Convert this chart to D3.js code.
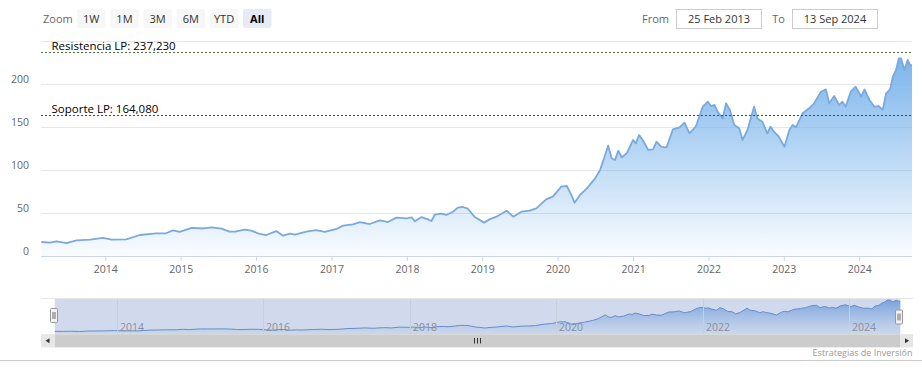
<!DOCTYPE html>
<html><head><meta charset="utf-8">
<script src="https://cdn.jsdelivr.net/npm/d3@7/dist/d3.min.js"></script>
<style>body{margin:0;background:#fff;}svg{display:block;font-family:"Open Sans",sans-serif;}</style>
</head><body><svg id="c" width="922" height="371"></svg>
<script>
const dates = ["2013-02-25","2013-04-08","2013-05-10","2013-06-28","2013-08-14","2013-10-20","2013-12-20","2014-02-01","2014-04-13","2014-06-17","2014-09-06","2014-10-23","2014-11-24","2014-12-28","2015-02-23","2015-04-20","2015-05-31","2015-07-18","2015-08-25","2015-09-27","2015-11-06","2015-12-09","2016-01-19","2016-02-20","2016-04-08","2016-05-11","2016-06-13","2016-07-08","2016-09-01","2016-10-19","2016-11-29","2017-01-25","2017-02-26","2017-04-15","2017-05-18","2017-07-05","2017-08-23","2017-10-02","2017-11-11","2017-12-30","2018-01-24","2018-02-09","2018-03-13","2018-04-13","2018-04-30","2018-05-16","2018-06-17","2018-07-11","2018-08-12","2018-09-05","2018-09-29","2018-10-23","2018-11-24","2019-01-10","2019-02-05","2019-03-11","2019-04-29","2019-05-31","2019-07-10","2019-08-19","2019-09-20","2019-11-07","2019-12-09","2020-01-19","2020-02-15","2020-03-08","2020-03-23","2020-04-19","2020-05-22","2020-07-01","2020-07-25","2020-08-13","2020-09-02","2020-09-19","2020-10-05","2020-10-21","2020-11-07","2020-12-01","2021-01-01","2021-01-14","2021-01-30","2021-02-19","2021-03-15","2021-04-08","2021-04-24","2021-05-18","2021-06-12","2021-07-13","2021-08-14","2021-09-07","2021-10-01","2021-11-02","2021-12-04","2021-12-29","2022-01-14","2022-01-30","2022-02-15","2022-03-11","2022-03-27","2022-04-15","2022-05-06","2022-05-30","2022-06-15","2022-07-09","2022-08-10","2022-08-26","2022-09-19","2022-10-13","2022-10-29","2022-11-14","2022-12-08","2023-01-04","2023-01-28","2023-02-13","2023-03-01","2023-04-02","2023-05-04","2023-05-28","2023-06-30","2023-07-24","2023-08-09","2023-09-02","2023-09-26","2023-10-12","2023-10-28","2023-11-21","2023-12-15","2024-01-11","2024-01-27","2024-02-20","2024-03-15","2024-04-05","2024-04-24","2024-05-11","2024-05-30","2024-06-12","2024-06-28","2024-07-11","2024-07-22","2024-08-07","2024-08-23","2024-09-04","2024-09-13"];
const prices = [16.3,15.5,17,15,18.2,19,21,19,19.4,24.4,26.4,26.4,29.8,28,32.6,32,33.3,31.8,28.3,28.5,30.6,29.5,25.6,24.4,29,23.6,26,24.8,28.3,30.2,28,31.4,35.3,36.8,39.5,37.2,41.5,39.5,44.6,43.8,45,40.3,45.3,42.6,40.7,48,49.2,47.7,51.5,56.2,57,55,45.7,38.8,42.6,45.7,52.7,45.7,51.5,52.7,55.4,65.9,69,80.6,81.4,71,62,71,78.7,90.3,100,113.6,128.3,113.6,111.6,122.4,114.8,119.4,134.9,131,140.7,134,123.3,124,132.9,127,126.4,147.3,149.6,155,142.7,151,173.6,179.4,174.4,175.6,167.8,160,177.6,169.8,152.3,148.5,134.9,146.5,173.6,160,156.2,142.7,150.3,144.5,138.7,127,146.5,152.3,149.6,165.9,171.7,177.6,191,193.8,177.6,186,175.6,179.4,173.6,191,196.9,185.2,193.8,181.4,173.6,174.4,169.8,189.2,193.8,208.5,216.3,229.9,229.9,216.3,228,222,222];
const yTicks = [0,50,100,150,200,250];
const yTickLabels = ["0","50","100","150","200",""];
const xTickYears = [2014,2015,2016,2017,2018,2019,2020,2021,2022,2023,2024];
const navTickYears = [2014,2016,2018,2020,2022,2024];
const plotLineValues = [237.23,164.08];
const plotLineLabels = ["Resistencia LP: 237,230","Soporte LP: 164,080"];
const zoomButtons = ["1W","1M","3M","6M","YTD","All"];
const fromDate = "25 Feb 2013", toDate = "13 Sep 2024";
const creditText = "Estrategias de Inversión";

const parse = d3.timeParse("%Y-%m-%d");
const data = dates.map((d,i)=>({date:parse(d), v:prices[i]}));
const svg = d3.select("#c");
const defs = svg.append("defs");

// ---------- range selector ----------
svg.append("text").attr("x",43).attr("y",23).attr("font-size","11px").attr("fill","#666").text("Zoom");
const btnG = svg.append("g");
zoomButtons.forEach((b,i)=>{
  const x = 77 + i*33.2;
  const sel = b==="All";
  btnG.append("rect").attr("x",x).attr("y",9).attr("width",28.5).attr("height",19).attr("rx",2)
    .attr("fill", sel ? "#e6ebf5" : "#f7f7f7");
  btnG.append("text").attr("x",x+14.25).attr("y",22.5).attr("text-anchor","middle")
    .attr("font-size","11px").attr("fill", sel ? "#000" : "#333").attr("font-weight", sel ? "bold":"normal").text(b);
});
svg.append("text").attr("x",669).attr("y",23).attr("text-anchor","end").attr("font-size","11px").attr("fill","#666").text("From");
svg.append("rect").attr("x",676.5).attr("y",9.5).attr("width",85).attr("height",19).attr("fill","#fff").attr("stroke","#cccccc");
svg.append("text").attr("x",719).attr("y",23).attr("text-anchor","middle").attr("font-size","11px").attr("fill","#333").text(fromDate);
svg.append("text").attr("x",785).attr("y",23).attr("text-anchor","end").attr("font-size","11px").attr("fill","#666").text("To");
svg.append("rect").attr("x",792.5).attr("y",9.5).attr("width",85).attr("height",19).attr("fill","#fff").attr("stroke","#cccccc");
svg.append("text").attr("x",835).attr("y",23).attr("text-anchor","middle").attr("font-size","11px").attr("fill","#333").text(toDate);

// ---------- main plot ----------
const x = d3.scaleTime().domain([parse("2013-02-25"), parse("2024-09-13")]).range([41.3, 912]);
const y = d3.scaleLinear().domain([0,250]).range([256, 41]);

const grid = svg.append("g");
yTicks.forEach(t=>{
  grid.append("line").attr("x1",41).attr("x2",912).attr("y1",Math.round(y(t))+0.5).attr("y2",Math.round(y(t))+0.5)
    .attr("stroke","#e6e6e6").attr("stroke-width",1);
});
const yAx = svg.append("g").attr("transform","translate(29,0)")
  .call(d3.axisLeft(y).tickValues(yTicks.slice(0,5)).tickFormat((d,i)=>yTickLabels[i]).tickSize(0).tickPadding(0));
yAx.select(".domain").remove();
yAx.selectAll("text").attr("font-family","Open Sans, sans-serif").attr("font-size","10.5px").attr("fill","#666").attr("dy",null)
  .attr("y",-1.5).attr("text-anchor","end");

const grad = defs.append("linearGradient").attr("id","ag").attr("gradientUnits","userSpaceOnUse")
  .attr("x1",0).attr("x2",0).attr("y1",y(d3.max(prices))).attr("y2",y(0));
grad.append("stop").attr("offset","0%").attr("stop-color","#7cb5ec").attr("stop-opacity",1);
grad.append("stop").attr("offset","100%").attr("stop-color","#7cb5ec").attr("stop-opacity",0.04);

const area = d3.area().x(d=>x(d.date)).y0(y(0)).y1(d=>y(d.v));
const line = d3.line().x(d=>x(d.date)).y(d=>y(d.v));
svg.append("path").datum(data).attr("d",area).attr("fill","url(#ag)");
svg.append("path").datum(data).attr("d",line).attr("fill","none").attr("stroke","#7aaadd").attr("stroke-width",1.8).attr("stroke-linejoin","round");

// plot lines
const plColors = ["#4f6e3e","#b3122e"];
plotLineValues.forEach((v,i)=>{
  const yy = Math.round(y(v))+0.5;
  svg.append("line").attr("x1",41).attr("x2",912).attr("y1",yy).attr("y2",yy)
    .attr("stroke",plColors[i]).attr("stroke-width",1).attr("stroke-dasharray","2,2");
  svg.append("text").attr("x",51.5).attr("y",yy-2.5).attr("font-size","11.5px").attr("fill","#000").text(plotLineLabels[i]);
});

// x axis
const xAx = svg.append("g").attr("transform","translate(0,256)")
  .call(d3.axisBottom(x).tickValues(xTickYears.map(yr=>new Date(yr,0,1))).tickFormat(d3.timeFormat("%Y")).tickSize(5).tickPadding(5));
xAx.select(".domain").attr("d","M41,0.5H912").attr("stroke","#ccd6eb");
xAx.selectAll(".tick line").attr("stroke","#ccd6eb");
xAx.selectAll("text").attr("font-family","Open Sans, sans-serif").attr("font-size","10.5px").attr("fill","#666");

// ---------- navigator ----------
const nx = d3.scaleTime().domain(x.domain()).range([54.8, 900.3]);
const ny = d3.scaleLinear().domain(d3.extent(prices)).range([331.5, 300]);
const navTop = 298, navBot = 334.3;
const ngrad = defs.append("linearGradient").attr("id","ng").attr("gradientUnits","userSpaceOnUse")
  .attr("x1",0).attr("x2",0).attr("y1",300).attr("y2",navBot);
ngrad.append("stop").attr("offset","0%").attr("stop-color","#5b95e0").attr("stop-opacity",0.75);
ngrad.append("stop").attr("offset","100%").attr("stop-color","#7cb5ec").attr("stop-opacity",0.05);
svg.append("path").datum(data).attr("d",d3.area().x(d=>nx(d.date)).y0(navBot).y1(d=>ny(d.v))).attr("fill","url(#ng)");
svg.append("path").datum(data).attr("d",d3.line().x(d=>nx(d.date)).y(d=>ny(d.v))).attr("fill","none").attr("stroke","#6a90cc").attr("stroke-width",1);
// mask (inside selection)
svg.append("rect").attr("x",54.8).attr("y",navTop).attr("width",900.3-54.8).attr("height",navBot-navTop).attr("fill","rgba(102,133,194,0.3)");
// nav grid + labels
navTickYears.forEach(yr=>{
  const xx = Math.round(nx(new Date(yr,0,1)))+0.5;
  svg.append("line").attr("x1",xx).attr("x2",xx).attr("y1",navTop).attr("y2",navBot).attr("stroke","#c8cedb").attr("stroke-width",1);
  svg.append("text").attr("x",xx+2.5).attr("y",330.7).attr("font-size","10.5px").attr("fill","#8a8f99").text(yr);
});
svg.append("line").attr("x1",41).attr("x2",913).attr("y1",navTop+0.5).attr("y2",navTop+0.5).attr("stroke","#e6e6e6");
// handles
[[54.8,308],[900.3,309.5]].forEach(([hx,hy])=>{
  svg.append("rect").attr("x",Math.round(hx)-4.5).attr("y",hy+0.5).attr("width",7).attr("height",14).attr("fill","#f2f2f2").attr("stroke","#999").attr("rx",1);
  [-1.5,0.5].forEach(o=>svg.append("line").attr("x1",Math.round(hx)+o-0.5).attr("x2",Math.round(hx)+o-0.5).attr("y1",hy+4).attr("y2",hy+11).attr("stroke","#333").attr("stroke-width",0.7));
});
// scrollbar
svg.append("rect").attr("x",41).attr("y",334.3).attr("width",872).attr("height",13).attr("fill","#f2f2f2");
svg.append("rect").attr("x",54.8).attr("y",334.3).attr("width",900.3-54.8).attr("height",13).attr("fill","#cccccc");
svg.append("rect").attr("x",41).attr("y",334.3).attr("width",13.8).attr("height",13).attr("fill","#e6e6e6");
svg.append("rect").attr("x",900.3).attr("y",334.3).attr("width",12.7).attr("height",13).attr("fill","#e6e6e6");
svg.append("path").attr("d","M49.5,338.3 L45.5,340.8 L49.5,343.3 Z").attr("fill","#333");
svg.append("path").attr("d","M905,338.3 L909,340.8 L905,343.3 Z").attr("fill","#333");
[-3,0,3].forEach(o=>svg.append("line").attr("x1",477.5+o).attr("x2",477.5+o).attr("y1",338).attr("y2",343.5).attr("stroke","#333").attr("stroke-width",1));

// credits + bottom border
svg.append("text").attr("x",912.5).attr("y",356).attr("text-anchor","end").attr("font-size","9px").attr("fill","#999").text(creditText);
svg.append("line").attr("x1",0).attr("x2",922).attr("y1",360.5).attr("y2",360.5).attr("stroke","#cccccc");
</script></body></html>
